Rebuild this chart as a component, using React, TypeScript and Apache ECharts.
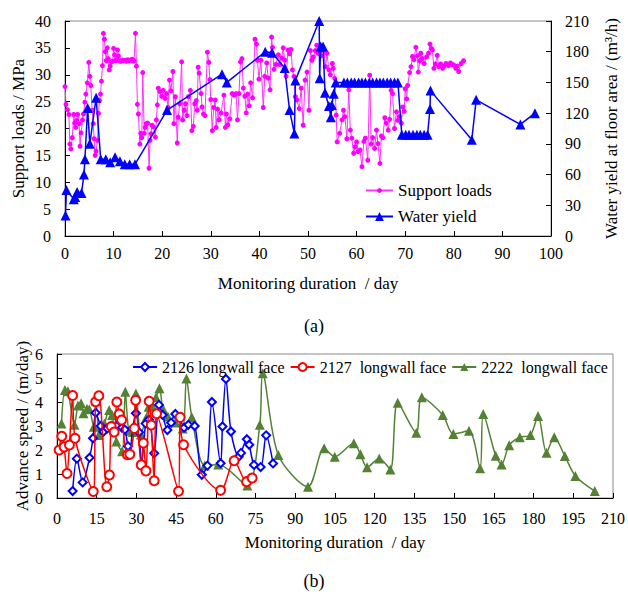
import { useEffect, useRef } from "react";
import * as echarts from "echarts";

// ---- Panel (a): support loads (MPa) and water yield (m³/h) vs monitoring day ----
const supportLoads: [number, number][] = [
  [0.0, 27.8], [0.2, 24.5], [0.5, 23.5], [0.8, 22.6], [1.0, 17.1], [1.2, 16.2], [1.5, 18.3],
  [1.8, 22.6], [2.0, 21.0], [2.2, 20.2], [2.4, 21.5], [2.6, 22.6], [2.9, 20.9], [3.1, 16.7],
  [3.3, 19.2], [3.6, 21.6], [3.8, 22.7], [4.1, 24.9], [4.3, 26.4], [4.6, 28.5], [4.9, 32.3],
  [5.1, 29.7], [5.3, 28.0], [5.6, 23.4], [5.8, 20.9], [6.0, 18.1], [6.2, 15.0], [6.4, 15.8],
  [6.7, 17.8], [6.9, 22.8], [7.1, 25.2], [7.3, 26.4], [7.5, 28.8], [7.7, 31.7], [7.9, 37.7],
  [8.1, 36.6], [8.3, 34.3], [8.5, 32.6], [8.7, 35.0], [8.9, 33.0], [9.1, 30.9], [9.3, 31.6],
  [9.5, 32.4], [9.8, 32.5], [10.0, 34.9], [10.2, 33.7], [10.4, 32.6], [10.6, 32.8], [10.8, 34.6],
  [11.0, 33.5], [11.2, 32.6], [11.5, 32.5], [11.8, 32.7], [12.0, 32.6], [12.3, 32.7], [12.6, 32.5],
  [12.9, 32.8], [13.2, 32.6], [13.5, 32.7], [13.8, 32.9], [14.0, 32.6], [14.2, 32.6], [14.5, 37.7],
  [14.7, 31.6], [14.9, 24.5], [15.1, 22.7], [15.4, 17.1], [15.6, 19.1], [15.8, 18.3], [16.0, 30.4],
  [16.3, 19.1], [16.5, 20.2], [16.7, 20.9], [17.0, 21.0], [17.3, 12.6], [17.5, 17.8], [17.7, 19.0],
  [17.9, 20.6], [18.2, 20.3], [18.6, 18.4], [18.8, 21.6], [19.0, 24.4], [19.2, 27.5], [19.5, 26.9],
  [19.9, 26.0], [20.2, 27.1], [20.6, 25.6], [20.9, 26.5], [21.2, 23.9], [21.5, 29.0], [21.8, 27.0],
  [22.2, 30.6], [22.4, 20.9], [22.7, 25.9], [23.1, 17.3], [23.3, 22.1], [23.6, 24.6], [24.0, 32.4],
  [24.2, 21.6], [24.5, 23.4], [24.8, 24.6], [25.1, 22.4], [25.4, 25.9], [25.8, 27.1], [26.1, 19.6],
  [26.4, 20.4], [26.7, 24.6], [27.0, 25.2], [27.2, 23.4], [27.4, 31.4], [27.6, 30.3], [28.0, 26.5],
  [28.2, 24.0], [28.5, 22.7], [28.8, 22.4], [29.3, 34.2], [29.6, 32.3], [29.8, 29.1], [30.0, 25.4],
  [30.3, 19.6], [30.6, 23.9], [30.9, 25.3], [31.1, 20.2], [31.4, 23.6], [31.7, 21.6], [32.1, 22.9],
  [32.7, 26.2], [33.0, 20.2], [33.2, 22.7], [33.5, 20.7], [33.9, 21.8], [34.4, 26.5], [34.8, 26.2],
  [35.2, 26.5], [35.5, 21.6], [35.8, 26.5], [36.1, 32.4], [36.4, 33.0], [36.7, 27.5], [37.0, 26.0],
  [37.3, 22.9], [37.6, 26.4], [37.9, 24.2], [38.2, 28.5], [38.6, 25.7], [39.1, 36.6], [39.4, 35.7],
  [39.6, 32.7], [39.9, 29.2], [40.3, 32.7], [40.8, 23.9], [41.1, 29.7], [41.5, 32.2], [41.8, 29.4],
  [42.2, 27.2], [42.5, 37.0], [42.7, 35.1], [43.0, 31.0], [43.4, 31.9], [43.9, 33.7], [44.2, 31.9],
  [44.6, 33.1], [44.9, 35.0], [45.2, 32.7], [45.5, 29.7], [45.9, 34.6], [46.2, 33.9], [46.5, 34.7],
  [46.8, 30.9], [47.1, 29.7], [47.4, 25.9], [47.7, 25.3], [48.2, 23.7], [48.6, 27.5], [49.0, 20.6],
  [49.4, 29.0], [49.8, 30.5], [50.2, 23.4], [50.5, 34.5], [50.8, 32.7], [51.1, 33.3], [51.5, 34.5],
  [51.8, 35.5], [52.1, 34.0], [52.4, 34.4], [52.7, 33.5], [53.0, 35.2], [53.3, 34.6], [53.6, 31.5],
  [53.9, 34.0], [54.3, 30.9], [54.6, 30.0], [55.0, 32.1], [55.2, 31.2], [55.5, 29.3], [55.8, 22.5],
  [56.0, 17.5], [56.5, 19.1], [57.0, 21.6], [57.3, 23.4], [57.6, 22.2], [58.0, 18.1], [58.4, 27.2],
  [58.7, 19.7], [59.0, 18.2], [59.4, 15.4], [59.7, 16.6], [60.0, 17.5], [60.3, 15.7], [60.7, 16.0],
  [61.1, 12.9], [61.5, 17.6], [61.8, 18.2], [62.3, 14.1], [62.7, 29.9], [63.0, 17.1], [63.3, 18.3],
  [63.7, 16.3], [64.1, 19.7], [64.4, 17.2], [64.8, 13.5], [65.1, 18.6], [65.4, 18.3], [65.8, 22.0],
  [66.1, 21.0], [66.5, 19.7], [66.8, 21.7], [67.1, 27.1], [67.4, 26.5], [67.8, 20.0], [68.2, 23.1],
  [68.5, 21.5], [68.8, 22.2], [69.2, 21.0], [69.5, 24.0], [69.8, 23.2], [70.0, 27.4], [70.3, 25.5],
  [70.5, 28.0], [70.9, 30.4], [71.2, 31.5], [71.5, 33.4], [71.8, 32.8], [72.2, 35.1], [72.5, 33.5],
  [72.7, 30.5], [73.0, 32.6], [73.2, 34.0], [73.5, 33.0], [73.9, 32.1], [74.4, 33.3], [74.8, 34.0],
  [75.1, 35.7], [75.4, 34.9], [75.6, 34.6], [75.9, 31.2], [76.2, 32.0], [76.6, 33.6], [76.9, 31.5],
  [77.3, 32.0], [77.7, 31.2], [78.0, 31.6], [78.4, 32.1], [78.9, 31.7], [79.3, 32.2], [79.7, 31.9],
  [80.0, 31.8], [80.4, 31.2], [80.7, 31.6], [81.0, 30.6], [81.5, 32.1], [82.0, 32.6],
];

const waterYield: [number, number][] = [
  [0.1, 20], [0.3, 45], [1.8, 36], [2.1, 38], [2.5, 43], [3.4, 42], [3.9, 60], [4.1, 75],
  [4.65, 125], [5.1, 90], [6.4, 135], [7.35, 75], [8.4, 75], [9.3, 72], [10.3, 77], [11.3, 73],
  [12.3, 70], [13.3, 70], [14.4, 70], [21.0, 123], [32.3, 158], [33.3, 150], [41.2, 180],
  [42.6, 179], [45.2, 164], [46.2, 123], [47.2, 100], [47.4, 152], [52.3, 210], [52.4, 154],
  [52.6, 185], [53.1, 185], [53.5, 140], [54.3, 127], [54.7, 116], [54.9, 128], [55.3, 139],
  [55.7, 150], [57.4, 150], [58.1, 150], [58.9, 150], [59.6, 150], [60.4, 150], [61.1, 150],
  [61.8, 150], [62.6, 150], [63.3, 150], [64.1, 150], [64.8, 150], [65.5, 150], [66.3, 150],
  [67.0, 150], [67.8, 150], [68.5, 150], [69.3, 99], [70.1, 99], [70.8, 99], [71.6, 99],
  [72.4, 99], [73.1, 99], [73.9, 99], [74.6, 99], [75.1, 124], [75.2, 142], [83.7, 94],
  [84.6, 133], [93.7, 109], [96.7, 120],
];

// ---- Panel (b): advance speed (m/day) of three longwall faces ----
const face2126: [number, number][] = [
  [5.9, 0.29], [7.5, 1.64], [9.7, 0.65], [12.3, 1.68], [13.6, 2.49], [14.6, 3.55], [16.5, 3.0],
  [17.5, 2.76], [19.0, 2.9], [20.5, 3.0], [22.5, 3.0], [24.5, 2.93], [25.6, 2.85], [26.8, 2.16],
  [27.4, 1.84], [28.6, 2.9], [29.8, 3.53], [31.0, 2.74], [31.9, 1.38], [33.5, 3.1], [34.7, 3.27],
  [36.7, 1.86], [38.5, 3.88], [39.9, 3.46], [41.7, 2.83], [43.1, 3.14], [44.7, 3.5], [46.4, 3.33],
  [48.0, 2.93], [49.6, 3.05], [52.0, 3.0], [54.7, 0.97], [56.8, 1.35], [58.5, 4.0], [61.8, 1.45],
  [62.5, 2.98], [63.8, 4.96], [65.7, 2.77], [68.6, 1.72], [69.5, 1.88], [71.7, 2.45], [72.6, 2.22],
  [74.4, 1.38], [76.9, 1.29], [79.0, 2.61], [81.6, 1.44],
];

const face2127: [number, number][] = [
  [0.8, 2.0], [1.8, 2.57], [2.7, 2.13], [3.8, 1.02], [4.7, 2.21], [5.9, 4.27], [6.8, 2.49],
  [13.7, 0.27], [14.6, 4.01], [15.8, 4.26], [18.8, 0.47], [19.8, 0.96], [20.5, 2.98], [21.6, 2.75],
  [22.6, 4.0], [23.5, 3.5], [24.4, 3.25], [26.6, 1.8], [27.5, 1.82], [29.2, 2.9], [29.7, 4.07],
  [31.8, 1.38], [32.6, 2.29], [33.6, 1.13], [34.8, 4.03], [35.6, 3.04], [36.7, 0.72], [37.6, 3.51],
  [45.9, 0.28], [46.5, 3.36], [47.8, 2.22], [61.8, 0.32], [66.9, 1.55], [71.6, 0.68], [73.7, 0.83],
];

const face2222: [number, number][] = [
  [1.7, 3.1], [3.0, 4.5], [4.1, 4.45], [6.6, 3.05], [7.9, 3.85], [9.1, 3.95], [10.0, 3.53],
  [11.3, 3.72], [12.2, 3.7], [13.9, 2.97], [14.8, 4.03], [15.8, 2.63], [16.8, 3.0], [17.9, 3.1],
  [19.7, 3.67], [20.8, 3.46], [22.4, 2.35], [24.6, 1.95], [25.8, 4.43], [27.1, 2.8], [28.7, 2.75],
  [29.8, 4.35], [31.7, 2.65], [33.5, 3.3], [34.6, 3.8], [35.8, 3.88], [37.4, 4.2], [38.7, 4.57],
  [40.0, 3.73], [41.9, 3.4], [44.8, 3.15], [47.5, 2.9], [48.9, 4.98], [50.9, 3.38], [55.8, 1.35],
  [60.9, 1.4], [71.9, 0.52], [76.6, 3.05], [77.7, 5.2], [83.6, 1.79], [94.8, 0.47], [100.9, 2.07],
  [104.9, 1.72], [112.1, 2.28], [114.6, 1.82], [117.1, 1.28], [121.7, 1.65], [125.9, 1.19],
  [128.7, 3.97], [135.7, 2.72], [137.8, 4.2], [145.7, 3.46], [149.7, 2.67], [155.6, 2.8],
  [159.8, 1.24], [161.0, 3.5], [165.7, 1.76], [167.9, 1.4], [170.8, 2.2], [174.8, 2.53],
  [178.8, 2.62], [181.7, 3.42], [184.9, 1.89], [187.8, 2.53], [191.8, 1.75], [195.8, 0.92],
  [203.1, 0.29],
];

const FONT = '"Liberation Serif", "Times New Roman", serif';
const BLACK = "#000";

const axisLine = { show: true, lineStyle: { color: BLACK, width: 1 } };
const axisTick = { show: true, inside: true, length: 5, lineStyle: { color: BLACK } };
const label = (margin: number) => ({ color: BLACK, fontFamily: FONT, fontSize: 16, margin });
const nameStyle = { color: BLACK, fontFamily: FONT, fontSize: 17 };

export default function App() {
  const ref = useRef<HTMLDivElement>(null);

  useEffect(() => {
    if (!ref.current) return;
    const chart = echarts.init(ref.current, undefined, { renderer: "svg" });
    chart.setOption({
      animation: false,
      backgroundColor: "#fff",
      textStyle: { fontFamily: FONT },
      title: [
        { text: "(a)", left: "center", top: 312, textStyle: { fontFamily: FONT, fontSize: 18, fontWeight: "normal", color: BLACK } },
        { text: "(b)", left: "center", top: 567, textStyle: { fontFamily: FONT, fontSize: 18, fontWeight: "normal", color: BLACK } },
      ],
      grid: [
        { left: 65, right: 69, top: 21, height: 215, show: true, borderColor: "#8a8a8a", borderWidth: 1 },
        { left: 57, right: 13, top: 354, height: 144, show: true, borderColor: "#8a8a8a", borderWidth: 1 },
      ],
      legend: [
        {
          data: ["Support loads"],
          left: 360,
          top: 177,
          itemWidth: 27,
          itemHeight: 6,
          textStyle: { color: BLACK, fontFamily: FONT, fontSize: 17 },
        },
        {
          data: ["Water yield"],
          left: 360,
          top: 203,
          itemWidth: 27,
          itemHeight: 11,
          textStyle: { color: BLACK, fontFamily: FONT, fontSize: 17 },
        },
        {
          data: ["2126 longwall face", "2127  longwall face", "2222  longwall face"],
          left: 127,
          top: 354,
          width: 495,
          itemGap: 5,
          itemWidth: 24,
          itemHeight: 10,
          textStyle: { color: BLACK, fontFamily: FONT, fontSize: 16 },
        },
      ],
      xAxis: [
        {
          gridIndex: 0,
          type: "value",
          min: 0,
          max: 100,
          interval: 10,
          name: "Monitoring duration  / day",
          nameLocation: "middle",
          nameGap: 39,
          nameMoveOverlap: false,
          nameTextStyle: nameStyle,
          axisLine,
          axisTick,
          axisLabel: label(9),
          splitLine: { show: false },
        },
        {
          gridIndex: 1,
          type: "value",
          min: 0,
          max: 210,
          interval: 15,
          name: "Monitoring duration  / day",
          nameLocation: "middle",
          nameGap: 36,
          nameMoveOverlap: false,
          nameTextStyle: nameStyle,
          axisLine,
          axisTick,
          axisLabel: label(12),
          splitLine: { show: false },
        },
      ],
      yAxis: [
        {
          gridIndex: 0,
          type: "value",
          min: 0,
          max: 40,
          interval: 5,
          name: "Support loads / MPa",
          nameLocation: "middle",
          nameGap: 38,
          nameMoveOverlap: false,
          nameTextStyle: nameStyle,
          axisLine,
          axisTick,
          axisLabel: label(14),
          splitLine: { show: false },
        },
        {
          gridIndex: 0,
          type: "value",
          position: "right",
          min: 0,
          max: 210,
          interval: 30,
          name: "Water yield at floor area / (m³/h)",
          nameLocation: "middle",
          nameGap: 52,
          nameRotate: 90,
          nameMoveOverlap: false,
          nameTextStyle: nameStyle,
          axisLine,
          axisTick,
          axisLabel: label(14),
          splitLine: { show: false },
        },
        {
          gridIndex: 1,
          type: "value",
          min: 0,
          max: 6,
          interval: 1,
          name: "Advance speed / (m/day)",
          nameLocation: "middle",
          nameGap: 26,
          nameMoveOverlap: false,
          nameTextStyle: nameStyle,
          axisLine,
          axisTick,
          axisLabel: label(14),
          splitLine: { show: false },
        },
      ],
      series: [
        {
          name: "Support loads",
          type: "line",
          xAxisIndex: 0,
          yAxisIndex: 0,
          data: supportLoads,
          symbol: "circle",
          symbolSize: 5,
          itemStyle: { color: "#ff00ff" },
          lineStyle: { color: "#ff33ff", width: 1 },
          z: 2,
        },
        {
          name: "Water yield",
          type: "line",
          xAxisIndex: 0,
          yAxisIndex: 1,
          data: waterYield,
          symbol: "triangle",
          symbolSize: 10,
          itemStyle: { color: "#0000ff" },
          lineStyle: { color: "#0000ff", width: 1.5 },
          z: 3,
        },
        {
          name: "2126 longwall face",
          type: "line",
          xAxisIndex: 1,
          yAxisIndex: 2,
          data: face2126,
          smooth: 0.3,
          symbol: "emptyDiamond",
          symbolSize: 8,
          itemStyle: { color: "#0000ff", borderWidth: 1.2 },
          lineStyle: { color: "#0000ff", width: 1.5 },
          z: 3,
        },
        {
          name: "2127  longwall face",
          type: "line",
          xAxisIndex: 1,
          yAxisIndex: 2,
          data: face2127,
          smooth: 0.3,
          symbol: "emptyCircle",
          symbolSize: 9,
          itemStyle: { color: "#ff0000", borderWidth: 1.2 },
          lineStyle: { color: "#ff0000", width: 1.5 },
          z: 4,
        },
        {
          name: "2222  longwall face",
          type: "line",
          xAxisIndex: 1,
          yAxisIndex: 2,
          data: face2222,
          smooth: 0.3,
          symbol: "triangle",
          symbolSize: 10,
          itemStyle: { color: "#548235" },
          lineStyle: { color: "#548235", width: 1.5 },
          z: 2,
        },
      ],
    });
    return () => chart.dispose();
  }, []);

  return (
    <div
      ref={ref}
      style={{ position: "fixed", left: 0, top: 0, width: 628, height: 592, background: "#fff" }}
    />
  );
}
